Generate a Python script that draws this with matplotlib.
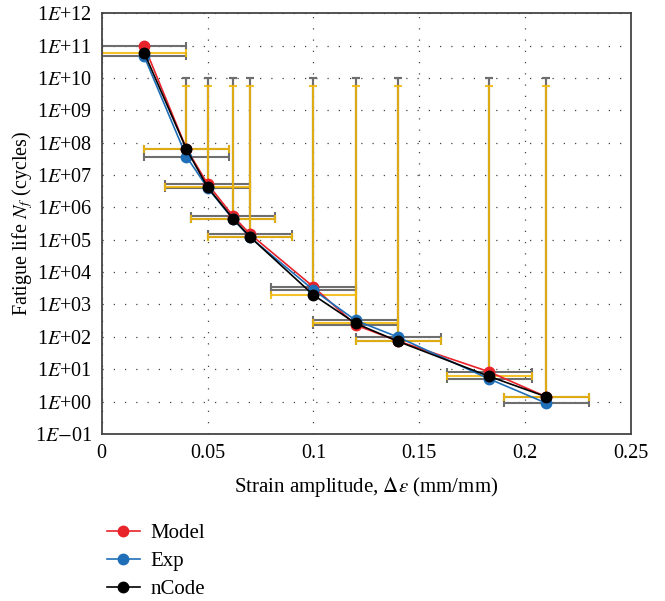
import numpy as np
import matplotlib
matplotlib.use("Agg")
import matplotlib.pyplot as plt

plt.rcParams['font.family'] = ['Liberation Serif', 'DejaVu Serif']
plt.rcParams['mathtext.fontset'] = 'stix'

# strain amplitude (mm/mm)
strain = [0.02, 0.04, 0.05, 0.062, 0.07, 0.1, 0.12, 0.14, 0.183, 0.21]
# fatigue life (cycles)
model = [1.0e11, 6.5e7, 5.3e6, 5.4e5, 1.5e5, 3.5e3, 2.3e2, 7.4e1, 8.3e0, 1.4e0]
exp = [4.7e10, 3.7e7, 4.0e6, 4.3e5, 1.2e5, 2.8e3, 3.2e2, 9.8e1, 5.0e0, 0.89]
ncode = [6.1e10, 6.3e7, 4.2e6, 4.5e5, 1.23e5, 1.95e3, 2.6e2, 7.2e1, 6.0e0, 1.4e0]

# error values
xerr = 0.02
yerr_model = 1.0e10
yerr_exp = 1.0e10
yerr_ncode = 5.6e9

yticks = [10.0 ** k for k in range(-1, 13)]
ytick_labels = [r'1$E$+%02d' % k if k >= 0 else r'1$E$$-$%02d' % -k for k in range(-1, 13)]
xticks = [0, 0.05, 0.1, 0.15, 0.2, 0.25]
xtick_labels = ['0', '0.05', '0.1', '0.15', '0.2', '0.25']

gray = '#6e6e6e'
yellow = '#f2b705'

fig = plt.figure(figsize=(6.65, 6.01), dpi=100)
ax = fig.add_axes([0.153, 0.278, 0.796, 0.700])

n = len(strain)
for vals, yerr, col, a in [(model, yerr_model, gray, 1.0),
                           (exp, yerr_exp, gray, 1.0),
                           (ncode, yerr_ncode, yellow, 0.85)]:
    ax.errorbar(strain, vals, xerr=xerr, yerr=[[0] * n, [yerr] * n], fmt='none',
                ecolor=col, elinewidth=1.5, capsize=3, capthick=1.5, alpha=a, zorder=2)

ax.plot(strain, model, '-o', color='#e8232a', lw=1.2, ms=7.5, label='Model', zorder=3)
ax.plot(strain, exp, '-o', color='#1f6fb8', lw=1.2, ms=7.5, label='Exp', zorder=4)
ax.plot(strain, ncode, '-o', color='black', lw=1.2, ms=7.5, label='nCode', zorder=5)

ax.set_yscale('log')
ax.set_xlim(0, 0.25)
ax.set_ylim(1e-1, 1e12)
ax.set_yticks(yticks)
ax.set_yticklabels(ytick_labels)
ax.minorticks_off()
ax.set_xticks(xticks)
ax.set_xticklabels(xtick_labels)
ax.tick_params(length=0, labelsize=14.5, pad=7)
ax.grid(True, linestyle=(0, (1, 8)), color='#444444', linewidth=0.9)
for s in ax.spines.values():
    s.set_color('#444444')
    s.set_linewidth(1.3)

ax.set_xlabel(r'Strain amplitude, $\Delta\epsilon$ (mm/mm)', fontsize=15, labelpad=9)
ax.set_ylabel(r'Fatigue life $N_f$ (cycles)', fontsize=14.5, labelpad=0)

fig.legend(loc='upper left', bbox_to_anchor=(0.148, 0.143), frameon=False,
           fontsize=15, handlelength=1.6, handletextpad=0.5, labelspacing=0.4,
           borderaxespad=0)

fig.savefig('out.png', dpi=100)
